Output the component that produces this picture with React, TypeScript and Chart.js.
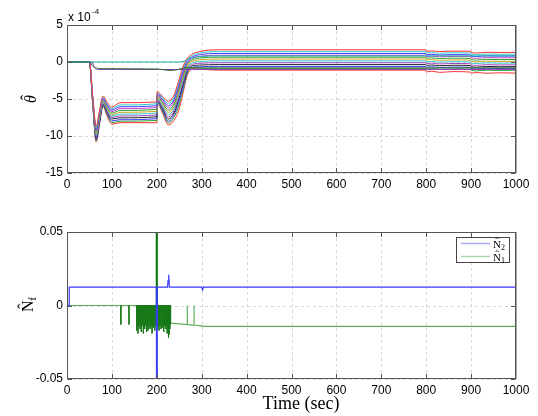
import React, { useEffect, useRef } from 'react';
import { Chart, registerables } from 'chart.js';
Chart.register(...registerables);

// ---------------- data ----------------
const X_TICKS = [0, 100, 200, 300, 400, 500, 600, 700, 800, 900, 1000];
const THETA_Y_TICKS = [-15, -10, -5, 0, 5];
const N_Y_TICKS = [-0.05, 0, 0.05];

// time samples for the theta-hat bundle (sec)
const THETA_T = [0, 50, 57, 65, 72, 80, 90, 100, 118, 200, 201, 212, 226, 238, 248, 258, 268, 280, 295, 315, 340, 799, 800, 812, 830, 860, 899, 900, 912, 935, 965, 1000];

// theta-hat estimates (units of 1e-4), top to bottom
const TH01 = [0, 0, -4.4, -8.7, -6.7, -4.6, -5.5, -6.1, -5.5, -5.4, -4.0, -4.6, -5.3, -4.5, -2.7, -0.7, 0.5, 1.1, 1.4, 1.6, 1.65, 1.65, 1.45, 1.5, 1.42, 1.47, 1.45, 1.3, 1.22, 1.32, 1.28, 1.3];
const TH02 = [0, 0, -4.5, -8.9, -6.9, -4.75, -5.7, -6.3, -5.8, -5.65, -4.15, -4.8, -5.6, -4.8, -3.0, -1.0, 0.3, 0.9, 1.2, 1.37, 1.4, 1.4, 1.22, 1.28, 1.18, 1.24, 1.2, 1.05, 0.98, 1.08, 1.04, 1.06];
const TH03 = [0, 0, -4.6, -9.1, -7.0, -4.9, -5.85, -6.5, -6.05, -5.9, -4.3, -5.0, -5.9, -5.1, -3.3, -1.3, 0.1, 0.7, 0.98, 1.12, 1.15, 1.15, 0.98, 1.04, 0.94, 1.0, 0.96, 0.82, 0.74, 0.84, 0.8, 0.82];
const TH04 = [0, 0, -4.7, -9.3, -7.2, -5.05, -6.0, -6.7, -6.3, -6.15, -4.45, -5.2, -6.2, -5.4, -3.6, -1.6, -0.1, 0.5, 0.75, 0.87, 0.9, 0.9, 0.74, 0.8, 0.7, 0.76, 0.72, 0.58, 0.5, 0.6, 0.56, 0.58];
const TH05 = [0, 0, -4.8, -9.5, -7.4, -5.2, -6.2, -6.9, -6.55, -6.4, -4.6, -5.4, -6.5, -5.7, -3.9, -1.9, -0.3, 0.3, 0.52, 0.63, 0.65, 0.65, 0.5, 0.56, 0.46, 0.52, 0.48, 0.34, 0.26, 0.36, 0.32, 0.34];
const TH06 = [0, 0, -4.9, -9.7, -7.6, -5.3, -6.35, -7.1, -6.8, -6.65, -4.75, -5.6, -6.8, -6.0, -4.2, -2.2, -0.5, 0.1, 0.28, 0.38, 0.4, 0.4, 0.26, 0.32, 0.22, 0.28, 0.24, 0.1, 0.02, 0.12, 0.08, 0.1];
const TH07 = [0, 0, -5.0, -9.9, -7.8, -5.45, -6.5, -7.3, -7.05, -6.9, -4.9, -5.8, -7.1, -6.3, -4.5, -2.5, -0.7, -0.1, 0.05, 0.13, 0.15, 0.15, 0.02, 0.08, -0.02, 0.04, 0.0, -0.14, -0.22, -0.12, -0.16, -0.14];
const TH08 = [0, 0, -5.1, -10.1, -8.0, -5.55, -6.7, -7.5, -7.3, -7.15, -5.05, -6.0, -7.4, -6.6, -4.8, -2.8, -0.9, -0.3, -0.18, -0.12, -0.1, -0.1, -0.22, -0.16, -0.26, -0.2, -0.24, -0.38, -0.46, -0.36, -0.4, -0.38];
const TH09 = [0, 0, -5.2, -10.3, -8.2, -5.7, -6.85, -7.7, -7.55, -7.4, -5.2, -6.2, -7.7, -6.9, -5.2, -3.1, -1.1, -0.5, -0.42, -0.37, -0.35, -0.35, -0.46, -0.4, -0.5, -0.44, -0.48, -0.62, -0.7, -0.6, -0.64, -0.62];
const TH10 = [0, 0, -5.3, -10.5, -8.4, -5.8, -7.0, -7.95, -7.8, -7.65, -5.35, -6.4, -8.0, -7.2, -5.6, -3.5, -1.3, -0.7, -0.65, -0.6, -0.6, -0.6, -0.7, -0.64, -0.74, -0.68, -0.72, -0.86, -0.94, -0.84, -0.88, -0.86];
const TH11 = [0, 0, -5.4, -10.65, -8.5, -5.9, -7.2, -8.2, -8.0, -7.9, -5.5, -6.6, -8.25, -7.5, -6.1, -3.9, -1.5, -0.8, -0.82, -0.85, -0.85, -0.85, -0.98, -0.9, -1.0, -0.94, -0.98, -1.12, -1.2, -1.1, -1.14, -1.12];
const TH12 = [0, 0, -5.5, -10.8, -8.6, -6.0, -7.4, -8.4, -8.2, -8.2, -5.6, -6.8, -8.5, -7.9, -6.7, -4.3, -1.8, -0.9, -0.95, -1.05, -1.1, -1.1, -1.35, -1.25, -1.4, -1.3, -1.36, -1.5, -1.42, -1.52, -1.46, -1.5];
const THETA_SERIES = [TH01, TH02, TH03, TH04, TH05, TH06, TH07, TH08, TH09, TH10, TH11, TH12];
const THETA_COLORS = ['#ff3030', '#30c8c8', '#3a3aff', '#c83cc8', '#2ea02e', '#c8a020', '#30c8c8', '#a040c0', '#222222', '#3a3aff', '#2ea02e', '#ff3030'];

// special theta-hat components
const TEAL_T = [0, 250, 262, 275, 300, 340, 1000];
const TEAL_V = [0, 0, 0.15, 0.5, 0.75, 0.82, 0.82];
const DKGREEN_T = [0, 50, 58, 68, 80, 200, 215, 230, 245, 260, 275, 300, 1000];
const DKGREEN_V = [0, 0, -0.6, -0.85, -0.9, -0.95, -1.05, -1.15, -1.05, -0.8, -0.75, -0.8, -0.8];
const PURPLE_T = [0, 55, 62, 70, 260, 280, 1000];
const PURPLE_V = [0, 0, -0.8, -1.0, -1.02, -1.0, -1.0];

// N-hat_2 (blue)
const N2_T = [0, 5, 5, 199, 199.5, 200.5, 201, 224, 225, 226, 227, 228, 300, 302, 304, 1000];
const N2_V = [0, 0, 0.0125, 0.0125, -0.07, -0.07, 0.0125, 0.0125, 0.017, 0.019, 0.021, 0.0125, 0.0125, 0.0105, 0.0125, 0.0125];
// N-hat_1 (green) baseline trace
const N1_T = [0, 230, 231, 250, 268, 268, 268, 283, 283, 283, 300, 302, 304, 400, 1000];
const N1_V = [0, 0, -0.012, -0.0125, -0.013, 0, -0.013, -0.0133, 0, -0.0133, -0.0138, -0.0145, -0.0141, -0.0142, -0.0142];
// N-hat_1 switching spikes
const N1_SPIKE_T = [120, 138, 155, 156.5, 158, 159.5, 161, 162.5, 164, 165.5, 167, 168.5, 170, 171.5, 173, 174.5, 176, 177.5, 179, 180.5, 182, 183.5, 185, 186.5, 188, 189.5, 191, 192.5, 194, 195.5, 197, 198.5, 202, 203.5, 205, 206.5, 208, 209.5, 211, 212.5, 214, 215.5, 217, 218.5, 220, 221.5, 223, 224.5, 226, 227.5, 229, 230.5];
const N1_SPIKE_V = [-0.013, -0.013, -0.017, -0.013, -0.019, -0.014, -0.013, -0.016, -0.013, -0.018, -0.014, -0.013, -0.019, -0.013, -0.016, -0.014, -0.013, -0.018, -0.013, -0.017, -0.015, -0.013, -0.016, -0.013, -0.014, -0.019, -0.013, -0.015, -0.013, -0.017, -0.014, -0.013, -0.015, -0.013, -0.017, -0.013, -0.014, -0.016, -0.013, -0.015, -0.013, -0.018, -0.014, -0.013, -0.016, -0.013, -0.019, -0.014, -0.022, -0.02, -0.016, -0.013];
const N1_BIG_T = [199.3, 200, 200.7];
const N1_BIG_V = [0.07, 0.07, 0.07];

// ---------------- helpers ----------------
const SANS = '"Liberation Sans", Arial, Helvetica, sans-serif';
const SERIF = '"Liberation Serif", "Times New Roman", serif';

const pts = (t: number[], v: number[]) => t.map((x, i) => ({ x, y: v[i] }));
const spikes = (t: number[], v: number[]) => {
  const out: any[] = [];
  t.forEach((x, i) => {
    out.push({ x, y: 0 }, { x, y: v[i] }, { x, y: null });
  });
  return out;
};

// draw a letter with a circumflex hat placed above it (left-aligned at x, alphabetic baseline y)
function hatted(ctx: CanvasRenderingContext2D, ch: string, x: number, y: number, size: number, style: string, hatRise: number, hatShift: number) {
  ctx.font = `${style}${size}px ${SERIF}`;
  ctx.textAlign = 'left';
  ctx.textBaseline = 'alphabetic';
  ctx.fillText(ch, x, y);
  const w = ctx.measureText(ch).width;
  ctx.textAlign = 'center';
  ctx.font = `${size}px ${SERIF}`;
  ctx.fillText('\u02C6', x + w / 2 + hatShift, y - hatRise);
  ctx.textAlign = 'left';
  return w;
}

const axesDecor = {
  id: 'axesDecor',
  beforeDatasetsDraw(chart: any) {
    const { ctx, chartArea: { left, right, top, bottom }, scales: { x, y } } = chart;
    ctx.save();
    ctx.strokeStyle = '#d6d6d6';
    ctx.lineWidth = 1;
    ctx.setLineDash([3, 3]);
    x.ticks.forEach((tk: any) => {
      const px = Math.round(x.getPixelForValue(tk.value)) + 0.5;
      ctx.beginPath(); ctx.moveTo(px, top); ctx.lineTo(px, bottom); ctx.stroke();
    });
    y.ticks.forEach((tk: any) => {
      const py = Math.round(y.getPixelForValue(tk.value)) + 0.5;
      ctx.beginPath(); ctx.moveTo(left, py); ctx.lineTo(right, py); ctx.stroke();
    });
    ctx.restore();
  },
  afterDatasetsDraw(chart: any) {
    const { ctx, chartArea: { left, right, top, bottom }, scales: { x, y } } = chart;
    ctx.save();
    ctx.setLineDash([]);
    ctx.strokeStyle = '#555555';
    ctx.lineWidth = 1;
    const L = Math.round(left) + 0.5, R = Math.round(right) - 0.5;
    const T = Math.round(top) + 0.5, B = Math.round(bottom) - 0.5;
    ctx.strokeRect(L, T, R - L, B - T);
    const tl = 4.5;
    x.ticks.forEach((tk: any) => {
      const px = Math.round(x.getPixelForValue(tk.value)) + 0.5;
      ctx.beginPath();
      ctx.moveTo(px, B); ctx.lineTo(px, B - tl);
      ctx.moveTo(px, T); ctx.lineTo(px, T + tl);
      ctx.stroke();
    });
    y.ticks.forEach((tk: any) => {
      const py = Math.round(y.getPixelForValue(tk.value)) + 0.5;
      ctx.beginPath();
      ctx.moveTo(L, py); ctx.lineTo(L + tl, py);
      ctx.moveTo(R, py); ctx.lineTo(R - tl, py);
      ctx.stroke();
    });
    ctx.strokeStyle = '#a8a8a8';
    ctx.beginPath(); ctx.moveTo(R + 1, T); ctx.lineTo(R + 1, B + 0.5); ctx.stroke();
    ctx.restore();
  },
};

const topLabels = {
  id: 'topLabels',
  afterDraw(chart: any) {
    const { ctx } = chart;
    ctx.save();
    ctx.fillStyle = '#000';
    ctx.textBaseline = 'alphabetic';
    ctx.textAlign = 'left';
    ctx.font = `12px ${SANS}`;
    ctx.fillText('x 10', 68, 21);
    ctx.font = `8px ${SANS}`;
    ctx.fillText('-4', 92, 14);
    // y label theta-hat (rotated)
    ctx.translate(36, 103);
    ctx.rotate(-Math.PI / 2);
    hatted(ctx, '\u03B8', 0, 0, 16, 'italic ', 4, 1.5);
    ctx.restore();
  },
};

const bottomLabels = {
  id: 'bottomLabels',
  afterDraw(chart: any) {
    const { ctx } = chart;
    ctx.save();
    ctx.fillStyle = '#000';
    // x title
    ctx.font = `18px ${SERIF}`;
    ctx.textAlign = 'center';
    ctx.textBaseline = 'alphabetic';
    ctx.fillText('Time (sec)', 301, 209);
    // legend
    ctx.fillStyle = '#fff';
    ctx.fillRect(456.5, 37.5, 53, 25);
    ctx.strokeStyle = '#444';
    ctx.lineWidth = 1;
    ctx.strokeRect(456.5, 37.5, 53, 25);
    ctx.lineWidth = 1.5;
    ctx.strokeStyle = '#a8a8ff';
    ctx.beginPath(); ctx.moveTo(461, 43.5); ctx.lineTo(490, 43.5); ctx.stroke();
    ctx.strokeStyle = '#a8d8a8';
    ctx.beginPath(); ctx.moveTo(461, 56.5); ctx.lineTo(490, 56.5); ctx.stroke();
    ctx.fillStyle = '#000';
    const w1 = hatted(ctx, 'N', 493, 47.5, 11, '', 3, 0);
    const w2 = hatted(ctx, 'N', 493, 60.5, 11, '', 3, 0);
    ctx.font = `8px ${SERIF}`;
    ctx.textAlign = 'left';
    ctx.fillText('2', 493 + w1, 50);
    ctx.fillText('1', 493 + w2, 63);
    // y label N-hat_f (rotated)
    ctx.translate(33, 112);
    ctx.rotate(-Math.PI / 2);
    const wn = hatted(ctx, 'N', 0, 0, 16, '', 4, 0);
    ctx.font = `10px ${SERIF}`;
    ctx.textAlign = 'left';
    ctx.fillText('f', wn, 3);
    ctx.restore();
  },
};

const tickFont = { family: SANS, size: 12 };

function makeScales(yMin: number, yMax: number, yTicks: number[], xHeight: number) {
  return {
    x: {
      type: 'linear', min: 0, max: 1000,
      afterBuildTicks: (s: any) => { s.ticks = X_TICKS.map((v) => ({ value: v })); },
      afterFit: (s: any) => { s.height = xHeight; },
      grid: { display: false, drawTicks: false }, border: { display: false },
      ticks: { autoSkip: false, maxRotation: 0, minRotation: 0, padding: 4, color: '#000', font: tickFont, callback: (v: any) => String(v) },
    },
    y: {
      type: 'linear', min: yMin, max: yMax,
      afterBuildTicks: (s: any) => { s.ticks = yTicks.map((v) => ({ value: v })); },
      afterFit: (s: any) => { s.width = 67; },
      grid: { display: false, drawTicks: false }, border: { display: false },
      ticks: { padding: 4, color: '#000', font: tickFont, callback: (v: any) => String(v) },
    },
  };
}

export default function App() {
  const topRef = useRef<HTMLCanvasElement>(null);
  const botRef = useRef<HTMLCanvasElement>(null);

  useEffect(() => {
    const topDatasets: any[] = [
      { label: 'teal', data: pts(TEAL_T, TEAL_V), borderColor: '#1aa8a8' },
      { label: 'dkgreen', data: pts(DKGREEN_T, DKGREEN_V), borderColor: '#2a6a2a' },
      { label: 'purple', data: pts(PURPLE_T, PURPLE_V), borderColor: '#8a3ab8' },
      ...THETA_SERIES.map((s, i) => ({ label: `theta ${i + 1}`, data: pts(THETA_T, s), borderColor: THETA_COLORS[i] })),
    ].map((d) => ({ ...d, borderWidth: 1, pointRadius: 0, cubicInterpolationMode: 'monotone', fill: false }));

    const top = new Chart(topRef.current!, {
      type: 'line',
      data: { datasets: topDatasets },
      options: {
        responsive: false, animation: false, devicePixelRatio: 1,
        layout: { padding: { top: 25, right: 22, left: 0, bottom: 0 } },
        plugins: { legend: { display: false }, tooltip: { enabled: false } },
        elements: { point: { radius: 0 } },
        scales: makeScales(-15, 5, THETA_Y_TICKS, 27) as any,
      },
      plugins: [axesDecor, topLabels],
    });

    const bot = new Chart(botRef.current!, {
      type: 'line',
      data: {
        datasets: [
          { label: 'N2', data: pts(N2_T, N2_V), borderColor: '#3a3aff', borderWidth: 1.2 },
          { label: 'N1 big', data: spikes(N1_BIG_T, N1_BIG_V), borderColor: '#0a7a0a', borderWidth: 1.5, spanGaps: false },
          { label: 'N1 spikes', data: spikes(N1_SPIKE_T, N1_SPIKE_V), borderColor: '#1a7a1a', borderWidth: 1, spanGaps: false },
          { label: 'N1', data: pts(N1_T, N1_V), borderColor: '#5cb05c', borderWidth: 1.2 },
        ].map((d) => ({ ...d, pointRadius: 0, tension: 0, fill: false })),
      },
      options: {
        responsive: false, animation: false, devicePixelRatio: 1,
        layout: { padding: { top: 32, right: 22, left: 0, bottom: 0 } },
        plugins: { legend: { display: false }, tooltip: { enabled: false } },
        elements: { point: { radius: 0 } },
        scales: makeScales(-0.05, 0.05, N_Y_TICKS, 37) as any,
      },
      plugins: [axesDecor, bottomLabels],
    });

    return () => { top.destroy(); bot.destroy(); };
  }, []);

  return (
    <div style={{ position: 'absolute', left: 0, top: 0, width: 538, height: 416, background: '#fff' }}>
      <canvas ref={topRef} width={538} height={200} style={{ position: 'absolute', left: 0, top: 0, display: 'block' }} />
      <canvas ref={botRef} width={538} height={216} style={{ position: 'absolute', left: 0, top: 200, display: 'block' }} />
    </div>
  );
}
